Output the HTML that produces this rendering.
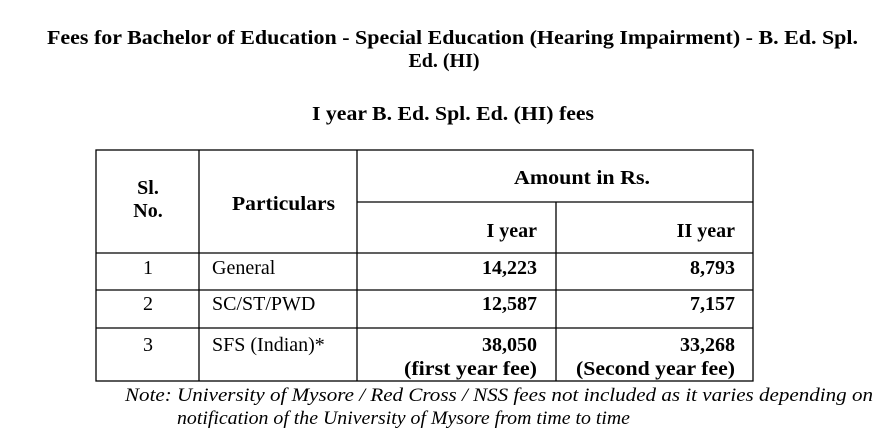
<!DOCTYPE html>
<html><head><meta charset="utf-8"><style>
html,body{margin:0;padding:0;background:#fff;}
svg{display:block}
</style></head><body>
<svg width="888" height="438" viewBox="0 0 888 438" xmlns="http://www.w3.org/2000/svg" font-family="'Liberation Serif', 'Times New Roman', serif">
<g font-weight="bold" font-size="20">
<text x="47" y="44" textLength="811" lengthAdjust="spacingAndGlyphs">Fees for Bachelor of Education - Special Education (Hearing Impairment) - B. Ed. Spl.</text>
<text x="444" y="67" text-anchor="middle">Ed. (HI)</text>
<text x="312" y="120" textLength="282" lengthAdjust="spacingAndGlyphs">I year B. Ed. Spl. Ed. (HI) fees</text>
</g>
<g stroke="#000" stroke-width="1.3" fill="none">
<rect x="96" y="150" width="657" height="231"/>
<line x1="199" y1="150" x2="199" y2="381"/>
<line x1="357" y1="150" x2="357" y2="381"/>
<line x1="556" y1="202" x2="556" y2="381"/>
<line x1="357" y1="202" x2="753" y2="202"/>
<line x1="96" y1="253" x2="753" y2="253"/>
<line x1="96" y1="290" x2="753" y2="290"/>
<line x1="96" y1="328" x2="753" y2="328"/>
</g>
<g font-size="20">
<g font-weight="bold">
<text x="148" y="194" text-anchor="middle">Sl.</text>
<text x="148" y="217" text-anchor="middle">No.</text>
<text x="232" y="210" textLength="103" lengthAdjust="spacingAndGlyphs">Particulars</text>
<text x="514" y="184" textLength="136" lengthAdjust="spacingAndGlyphs">Amount in Rs.</text>
<text x="537" y="237" text-anchor="end">I year</text>
<text x="735" y="237" text-anchor="end">II year</text>
<text x="537" y="274" text-anchor="end">14,223</text>
<text x="735" y="274" text-anchor="end">8,793</text>
<text x="537" y="310" text-anchor="end">12,587</text>
<text x="735" y="310" text-anchor="end">7,157</text>
<text x="537" y="351" text-anchor="end">38,050</text>
<text x="735" y="351" text-anchor="end">33,268</text>
<text x="404" y="375" textLength="133" lengthAdjust="spacingAndGlyphs">(first year fee)</text>
<text x="576" y="375" textLength="159" lengthAdjust="spacingAndGlyphs">(Second year fee)</text>
</g>
<text x="148" y="274" text-anchor="middle">1</text>
<text x="212" y="274">General</text>
<text x="148" y="310" text-anchor="middle">2</text>
<text x="212" y="310">SC/ST/PWD</text>
<text x="148" y="351" text-anchor="middle">3</text>
<text x="212" y="351">SFS (Indian)*</text>
</g>
<g font-style="italic" font-size="19">
<text x="125" y="401" textLength="748" lengthAdjust="spacingAndGlyphs">Note: University of Mysore / Red Cross / NSS fees not included as it varies depending on</text>
<text x="177" y="424" textLength="453" lengthAdjust="spacingAndGlyphs">notification of the University of Mysore from time to time</text>
</g>
</svg>
</body></html>
